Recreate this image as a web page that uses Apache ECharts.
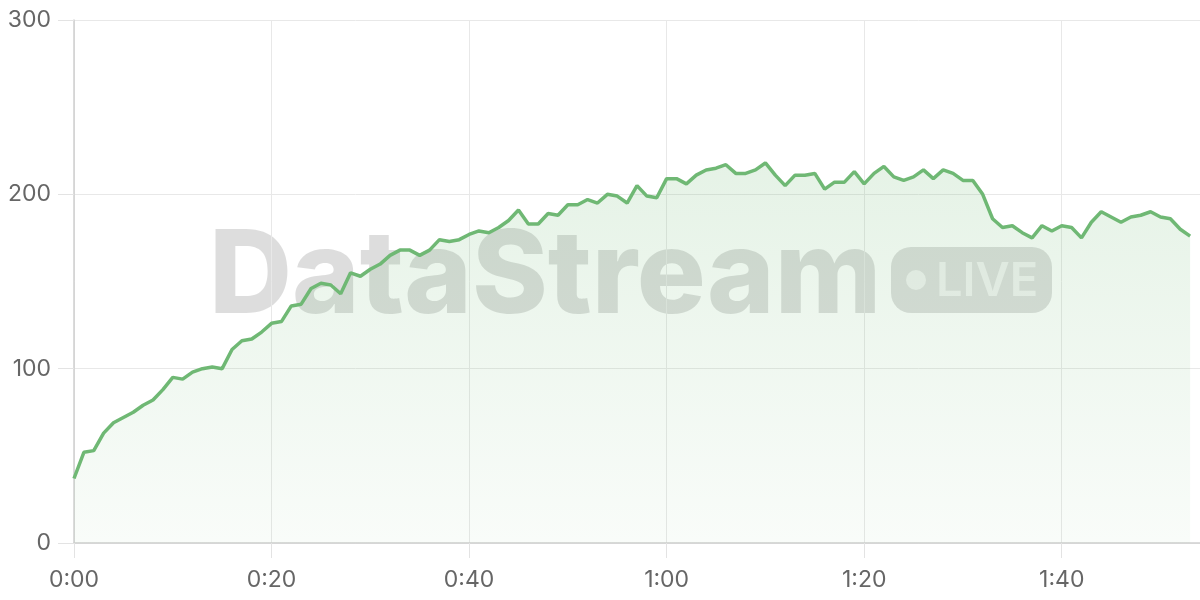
<!DOCTYPE html>
<html>
<head>
<meta charset="utf-8">
<script src="https://cdn.jsdelivr.net/npm/echarts@6/dist/echarts.min.js"></script>
<style>html,body{margin:0;padding:0;background:#fff}#c{width:1200px;height:600px}</style>
</head>
<body>
<div id="c"></div>
<script>
// Sampled values, one per second starting at 0:00
const values = [
  37, 52, 53, 63, 69, 72, 75, 79, 82, 88,
  95, 94, 98, 100, 101, 100, 111, 116, 117, 121,
  126, 127, 136, 137, 146, 149, 148, 143, 155, 153,
  157, 160, 165, 168, 168, 165, 168, 174, 173, 174,
  177, 179, 178, 181, 185, 191, 183, 183, 189, 188,
  194, 194, 197, 195, 200, 199, 195, 205, 199, 198,
  209, 209, 206, 211, 214, 215, 217, 212, 212, 214,
  218, 211, 205, 211, 211, 212, 203, 207, 207, 213,
  206, 212, 216, 210, 208, 210, 214, 209, 214, 212,
  208, 208, 200, 186, 181, 182, 178, 175, 182, 179,
  182, 181, 175, 184, 190, 187, 184, 187, 188, 190,
  187, 186, 180, 176
];
const yTicks = [0, 100, 200, 300];
const xTickSeconds = [0, 20, 40, 60, 80, 100];
const watermarkText = 'DataStream';
const badgeText = 'LIVE';

function fmtTime(s) {
  const m = Math.floor(s / 60);
  const ss = Math.round(s % 60);
  return m + ':' + (ss < 10 ? '0' : '') + ss;
}

const chart = echarts.init(document.getElementById('c'), null, {renderer: 'canvas'});
const FONT = 'Inter, "Noto Sans", sans-serif';
chart.setOption({
  animation: false,
  backgroundColor: '#ffffff',
  grid: {left: 74, right: -1, top: 20, bottom: 57, containLabel: false},
  xAxis: {
    type: 'value',
    min: xTickSeconds[0],
    max: 114,
    interval: 20,
    axisLine: {show: true, lineStyle: {color: '#cfcfcf', width: 1.5}},
    axisTick: {show: true, length: 15, lineStyle: {color: '#e3e3e3'}},
    splitLine: {show: true, lineStyle: {color: '#e8e8e8'}},
    axisLabel: {
      color: '#666', fontSize: 23, fontFamily: FONT, margin: 26,
      showMaxLabel: false,
      formatter: v => fmtTime(v)
    }
  },
  yAxis: {
    type: 'value',
    min: yTicks[0],
    max: yTicks[yTicks.length - 1],
    interval: 100,
    axisLine: {show: true, lineStyle: {color: '#cfcfcf', width: 1.5}},
    axisTick: {show: true, length: 16, lineStyle: {color: '#e3e3e3'}},
    splitLine: {show: true, lineStyle: {color: '#e8e8e8'}},
    axisLabel: {color: '#666', fontSize: 23, fontFamily: FONT, margin: 23}
  },
  graphic: [
    {
      type: 'text', silent: true, z: 0,
      x: 209, y: 278,
      style: {
        text: watermarkText,
        font: '800 115px ' + FONT,
        fill: 'rgba(0,0,0,0.135)',
        align: 'left', verticalAlign: 'middle'
      }
    },
    {
      type: 'rect', silent: true, z: 0,
      shape: {x: 891, y: 247, width: 161, height: 66, r: 20},
      style: {fill: 'rgba(0,0,0,0.13)'}
    },
    {
      type: 'circle', silent: true, z: 1,
      shape: {cx: 916, cy: 280, r: 10},
      style: {fill: 'rgba(255,255,255,0.6)'}
    },
    {
      type: 'text', silent: true, z: 1,
      x: 936, y: 282,
      style: {
        text: badgeText,
        font: '600 47px ' + FONT,
        fill: 'rgba(255,255,255,0.6)',
        align: 'left', verticalAlign: 'middle'
      }
    }
  ],
  series: [{
    type: 'line',
    data: values.map((v, i) => [i, v]),
    showSymbol: false,
    symbol: 'none',
    z: 3,
    lineStyle: {color: '#6fb874', width: 3.5},
    areaStyle: {
      color: new echarts.graphic.LinearGradient(0, 0, 0, 1, [
        {offset: 0, color: 'rgba(109,184,114,0.25)'},
        {offset: 1, color: 'rgba(109,184,114,0.06)'}
      ])
    }
  }]
});
</script>
</body>
</html>
